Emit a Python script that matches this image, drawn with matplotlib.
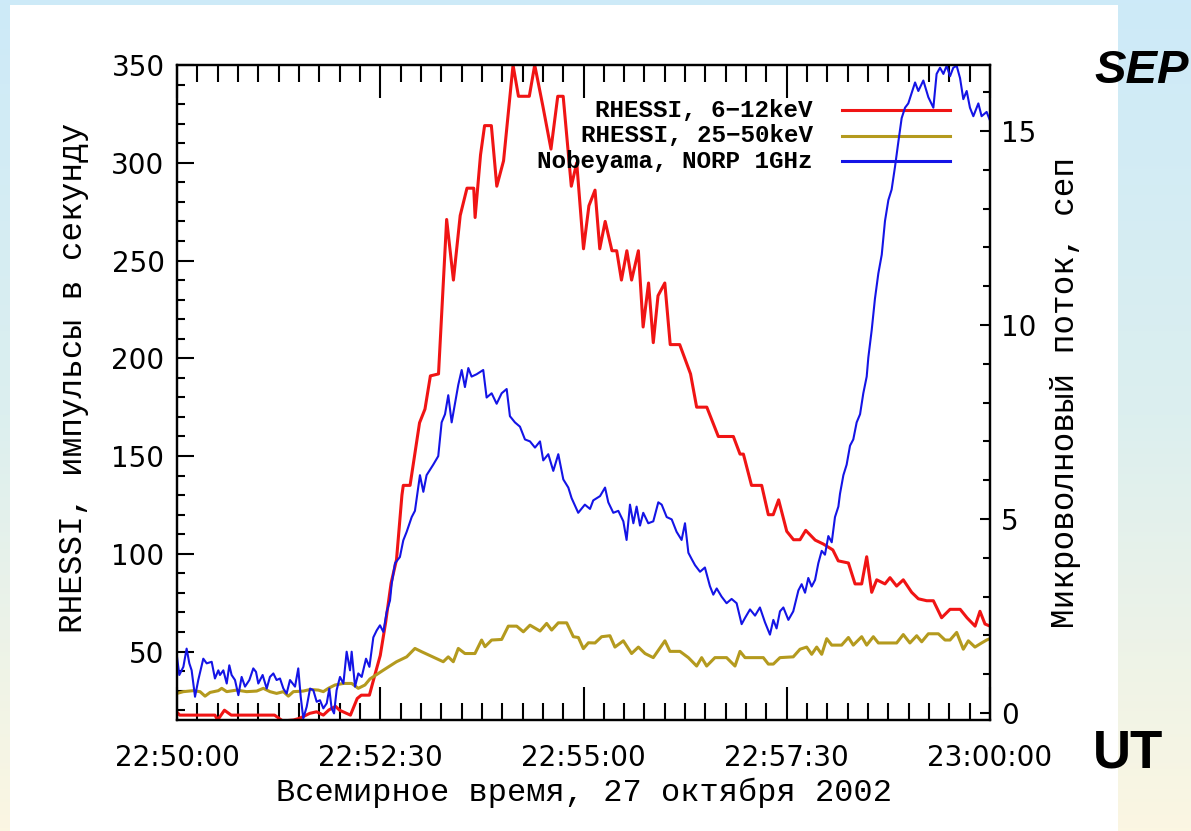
import numpy as np
import matplotlib
matplotlib.use("Agg")
import matplotlib.pyplot as plt
from matplotlib.patches import Rectangle
from matplotlib.colors import LinearSegmentedColormap
from matplotlib.ticker import MultipleLocator, FixedLocator

# seconds after 22:50:00 UT
time_ticks = [0, 150, 300, 450, 600]
time_labels = ["22:50:00", "22:52:30", "22:55:00", "22:57:30", "23:00:00"]

# RHESSI 6-12 keV, counts/s
red_t = [0, 2, 28, 30, 35, 40, 72, 78, 86, 90, 93, 98, 103, 108, 112, 117, 120, 128,
         133, 136, 142, 146, 150, 154, 158, 162, 166, 167, 172, 179, 183, 187, 193,
         199, 204, 209, 214, 219, 220, 224, 227, 232, 236, 241, 248, 252, 260, 264,
         270, 276, 281, 285, 291, 295, 300, 304, 308.5, 312, 316, 321, 324.5, 328,
         332, 335.5, 340.5, 344, 348, 351.5, 355, 360, 364, 371, 379, 383.5, 391,
         399.5, 410.6, 415.5, 418, 424, 431.5, 436.4, 440, 444, 450, 455, 459.8,
         464, 471, 477, 484, 488, 495.5, 500.4, 505.3, 509, 512.7, 516.4, 522.5,
         526.2, 531.1, 536, 542.2, 547.1, 553.3, 558.2, 564.3, 570.5, 578, 583,
         589, 592.6, 596.3, 600]
red_v = [19, 17.5, 17.5, 15, 20, 17.5, 17.5, 14.5, 15, 15.8, 16.7, 18.4, 19.2, 17.5,
         20.1, 22, 20, 17.5, 26, 27.7, 27.7, 38, 48, 65, 85, 97, 130, 135, 135, 167,
         174, 191, 192, 271, 240, 273, 287, 287, 272, 304, 319, 319, 288, 301, 350,
         334, 334, 350, 329, 307, 334, 334, 288, 300, 256, 278, 286, 256, 270, 255,
         255, 240, 255, 240, 255, 216, 238.5, 208, 232, 238.5, 207, 207, 192, 175,
         175, 160, 160, 151, 151, 135, 135, 120, 120, 127.6, 111.5, 107.2, 107.2,
         112, 107, 105, 102, 96.4, 95.3, 84.6, 84.6, 98.5, 80.3, 86.7, 84.6, 87.8,
         83.5, 86.7, 80.3, 77, 76, 76, 67.3, 71.6, 71.6, 67.3, 63, 70.6, 64.1, 63]

# RHESSI 25-50 keV, counts/s
olive_t = [0, 4.7, 12, 17, 20.7, 24.4, 30.5, 33, 36.7, 44, 51.4, 58.8, 63.7, 68.6,
           73.5, 78.5, 82.2, 85.9, 93.2, 98.2, 104.3, 108, 111.7, 116.6, 122.8, 128.9,
           133.8, 138.7, 142.4, 152.3, 162, 169.5, 175.6, 180.6, 196.5, 200.2, 203.9,
           207.6, 212.5, 219.9, 224.8, 227.3, 232.2, 239.6, 244.5, 250.7, 255.6,
           260.5, 267.9, 272.8, 276.5, 281.4, 287.6, 292.5, 296.2, 299.9, 303.6,
           308.5, 313.4, 319.5, 323.2, 329.4, 335.5, 340.5, 345.4, 351.5, 360.1,
           363.8, 371.2, 377.4, 383.5, 387.2, 390.9, 397, 405.6, 411.8, 415.5, 419.2,
           432.7, 436.4, 440.1, 445, 454.8, 459.8, 464.7, 468.4, 472.1, 475.8, 479.5,
           483.2, 490.5, 495.5, 499.1, 505.3, 509, 513.9, 517.6, 531.1, 536, 540.9,
           545.9, 549.6, 554.5, 561.9, 566.8, 570.5, 575.4, 580.3, 584, 588.9, 593.8,
           597.5, 600]
olive_v = [28.6, 29.5, 30, 29.5, 27.2, 29.1, 30, 31.2, 29.5, 30.3, 29.5, 29.8, 31.2,
           29.5, 28.6, 29.5, 27.2, 29.5, 29.8, 30.6, 30.3, 29.5, 31.2, 32.9, 33.7, 33.7,
           31.2, 32.9, 36, 40.5, 44.8, 47.3, 51.6, 49.9, 44.8, 47.3, 44.8, 51.6, 49,
           49, 55.9, 52.5, 55.9, 56.2, 63, 63, 60.1, 63.5, 60.5, 64.4, 61, 64.7, 64.7,
           57.6, 57.2, 51.5, 54.5, 54.4, 57.6, 58.1, 52.3, 55.5, 49, 52.3, 49, 46.9,
           55.5, 50.1, 50.1, 46.9, 42.6, 46.9, 42.6, 46.9, 46.9, 42.6, 50.1, 46.9,
           46.9, 43.6, 43.6, 46.9, 47.3, 51.2, 52.3, 48.6, 52.3, 48.6, 56.6, 53.3,
           53.3, 57.2, 53.3, 57.6, 53.3, 57.6, 54.4, 54.4, 58.7, 54.4, 58.1, 55, 59.1,
           59.1, 55.9, 55.9, 59.8, 51.2, 55.5, 52.3, 54.4, 55.9, 56.6]

# Nobeyama NORP 1 GHz, sfu
blue_t = [0, 1.7, 4.7, 7.1, 9.1, 10.8, 13.3, 15.7, 19.4, 21.9, 25.6, 28, 30.5, 31.7,
          34.2, 36.7, 38.6, 40.3, 42.8, 45.3, 47.7, 50.2, 53.4, 56.3, 58.3, 60, 63.2,
          66.2, 68.6, 71.1, 73.5, 76, 78.5, 80.9, 83.4, 87.1, 89.5, 91.3, 93.2, 95.7,
          98.2, 100.6, 103.1, 105.5, 108, 110.5, 112.4, 114.1, 115.9, 117.8, 120.3,
          122.8, 125.2, 127.7, 128.9, 131.4, 133.8, 136.3, 139.5, 142, 144.9, 147.4,
          149.8, 152.3, 154.7, 157.2, 158.4, 160.9, 164.5, 167, 169.5, 173.2, 175.6,
          179.3, 181.8, 184.2, 189.1, 192.8, 195.3, 197.8, 200.2, 202.7, 205.1, 207.6,
          210.1, 212.5, 215, 217.4, 221.1, 226, 228.5, 232.2, 235.9, 239.6, 243.3,
          245.7, 249.4, 253.1, 256.8, 260.5, 264.2, 267.9, 270.3, 274, 277.7, 281.4,
          285.1, 288.8, 291.2, 296.1, 301, 304.8, 307.2, 312.2, 315.9, 318.3, 322,
          325.7, 329.4, 331.8, 334.3, 336.8, 339.2, 341.7, 344.1, 347.8, 351.5, 355.2,
          357.7, 361.4, 365.1, 368.7, 372.4, 374.9, 377.4, 379.8, 382.3, 386, 389.6,
          393.3, 395.8, 398.3, 401.9, 405.6, 409.3, 413, 416.7, 419.2, 422.9, 426.6,
          430.2, 433.9, 437.6, 440.1, 442.5, 445, 447.5, 451.2, 454.8, 458.6, 461,
          463.5, 465.9, 468.4, 470.9, 473.3, 475.8, 478.2, 480.7, 483.2, 485.6, 488.1,
          489.3, 491.8, 494.2, 496.7, 499.1, 501.6, 504.1, 506.5, 509, 510.2, 512.7,
          515.1, 517.6, 520.1, 522.5, 525, 527.4, 529.9, 532.4, 534.8, 537.3, 539.7,
          542.2, 544.7, 547.1, 550.8, 554.5, 558.2, 560.6, 563.1, 565.6, 568, 570.5,
          572.9, 575.4, 577.9, 580.3, 582.8, 585.2, 587.7, 591.4, 593.8, 597.5, 600]
blue_v = [1.45, 0.98, 1.19, 1.66, 1.28, 1.10, 0.42, 0.85, 1.40, 1.28, 1.32, 0.89, 1.10,
          0.98, 1.10, 0.76, 1.23, 0.98, 0.85, 0.46, 0.93, 0.68, 0.85, 1.15, 1.06, 0.76,
          0.98, 0.63, 0.93, 1.02, 0.85, 0.89, 0.63, 0.50, 0.85, 0.68, 1.15, 0.42, -0.14,
          0.16, 0.63, 0.59, 0.29, 0.33, 0.12, 0.25, 0.63, 0.12, -0.01, 0.59, 0.93, 0.76,
          1.58, 1.10, 1.58, 0.68, 1.02, 0.93, 1.40, 1.19, 1.95, 2.13, 2.26, 2.09, 2.60,
          2.90, 3.32, 3.86, 4.02, 4.45, 4.67, 5.05, 5.21, 6.13, 5.70, 6.13, 6.40, 6.62,
          7.49, 7.70, 8.19, 7.49, 7.97, 8.46, 8.84, 8.40, 8.89, 8.67, 8.73, 8.84, 8.13,
          8.24, 7.97, 8.24, 8.35, 7.65, 7.49, 7.38, 7.05, 7.00, 6.84, 7.00, 6.51, 6.67,
          6.24, 6.67, 6.02, 5.81, 5.54, 5.16, 5.37, 5.26, 5.48, 5.59, 5.81, 5.43, 5.16,
          5.21, 4.94, 4.46, 5.37, 4.89, 5.32, 4.83, 5.16, 4.89, 4.94, 5.43, 5.37, 5.05,
          4.99, 4.67, 4.46, 4.89, 4.13, 3.97, 3.81, 3.64, 3.75, 3.27, 3.05, 3.21, 3.00,
          2.83, 2.94, 2.83, 2.29, 2.45, 2.67, 2.51, 2.72, 2.34, 2.02, 2.40, 2.18, 2.62,
          2.72, 2.40, 2.62, 3.16, 3.32, 3.10, 3.48, 3.26, 3.43, 3.86, 4.18, 4.08, 4.56,
          4.40, 5.05, 5.32, 5.65, 6.13, 6.40, 6.89, 7.05, 7.49, 7.70, 8.24, 8.67, 9.16,
          9.87, 10.68, 11.33, 11.81, 12.68, 13.22, 13.49, 14.08, 14.73, 15.33, 15.60,
          15.71, 15.98, 16.25, 16.03, 16.30, 15.87, 15.60, 16.47, 16.63, 16.47, 16.68,
          16.41, 16.63, 16.68, 16.36, 15.82, 16.03, 15.60, 15.38, 15.71, 15.38, 15.49,
          15.27]

legend_labels = ["RHESSI, 6\u221212keV", "RHESSI, 25\u221250keV", "Nobeyama, NORP 1GHz"]
RED, OLIVE, BLUE = "#f01414", "#b49a1e", "#1414e6"

W, H = 1191, 831
fig = plt.figure(figsize=(W / 100, H / 100), dpi=100)

# slide background: blue on top fading to cream
bg = fig.add_axes([0, 0, 1, 1], zorder=-10)
cmap = LinearSegmentedColormap.from_list("bg", ["#cdeaf8", "#dcefef", "#fbf6e2"])
bg.imshow(np.linspace(0, 1, 256)[:, None], cmap=cmap, aspect="auto", extent=[0, 1, 0, 1])
bg.set_axis_off()
fig.add_artist(Rectangle((10 / W, 0), 1108 / W, 826 / H, transform=fig.transFigure,
                         facecolor="white", edgecolor="none", zorder=-5))

mono = "Liberation Mono"
tickfont = "DejaVu Sans"

ax = fig.add_axes([177 / W, 1 - 720 / H, 813 / W, 655 / H])
ax.set_facecolor("none")
ax2 = ax.twinx()

ax.plot(red_t, red_v, color=RED, lw=2.2)
ax.plot(olive_t, olive_v, color=OLIVE, lw=2.2)
ax2.plot(blue_t, blue_v, color=BLUE, lw=1.5)

ax.set_xlim(0, 600)
ax.set_ylim(15, 350)
ax2.set_ylim(-0.18, 16.7)

# legend: text right aligned, sample line on the right
for i, (lab, col) in enumerate(zip(legend_labels, [RED, OLIVE, BLUE])):
    yy = 0.931 - i * 0.039
    ax2.plot([0.818, 0.951], [yy, yy], color=col, lw=2.2, transform=ax.transAxes, zorder=1)
    ax2.text(0.782, yy, lab, ha="right", va="center", transform=ax.transAxes,
             family=mono, fontsize=17.5, fontweight="bold", zorder=5)

ax.xaxis.set_major_locator(FixedLocator(time_ticks))
ax.set_xticklabels(time_labels)
ax.xaxis.set_minor_locator(MultipleLocator(15))
ax.yaxis.set_major_locator(MultipleLocator(50))
ax.yaxis.set_minor_locator(MultipleLocator(10))
ax2.yaxis.set_major_locator(MultipleLocator(5))
ax2.yaxis.set_minor_locator(MultipleLocator(1))

ax.tick_params(axis="x", which="major", direction="in", length=24, width=1.5,
               top=True, pad=17, labelsize=20)
ax.tick_params(axis="x", which="minor", direction="in", length=12, width=1.5, top=True)
ax.tick_params(axis="y", which="major", direction="in", length=12, width=1.5,
               right=False, pad=9, labelsize=20)
ax.tick_params(axis="y", which="minor", direction="in", length=6, width=1.5, right=False)
ax2.tick_params(axis="y", which="major", direction="in", length=7, width=1.5,
                pad=8, labelsize=20)
ax2.tick_params(axis="y", which="minor", direction="in", length=5, width=1.5)
for lab in ax.get_xticklabels() + ax.get_yticklabels() + ax2.get_yticklabels():
    lab.set_family(tickfont)

for a in (ax, ax2):
    for s in a.spines.values():
        s.set_linewidth(1.6)

ax.set_xlabel("Всемирное время, 27 октября 2002", family=mono, fontsize=23, labelpad=4)
ax.set_ylabel("RHESSI, импульсы в секунду", family=mono, fontsize=23.5, labelpad=16)
ax.yaxis.label.set_y(0.522)
ax2.set_ylabel("Микроволновый поток, сеп", family=mono, fontsize=23.5, labelpad=10)

fig.text(1189 / W, 1 - 83 / H, "SEP", family="Liberation Sans", fontweight="bold",
         style="italic", fontsize=34, ha="right", va="baseline")
fig.text(1093 / W, 1 - 767 / H, "UT", family="Liberation Sans", fontweight="bold",
         fontsize=38, ha="left", va="baseline")

fig.savefig("out.png", dpi=100)
